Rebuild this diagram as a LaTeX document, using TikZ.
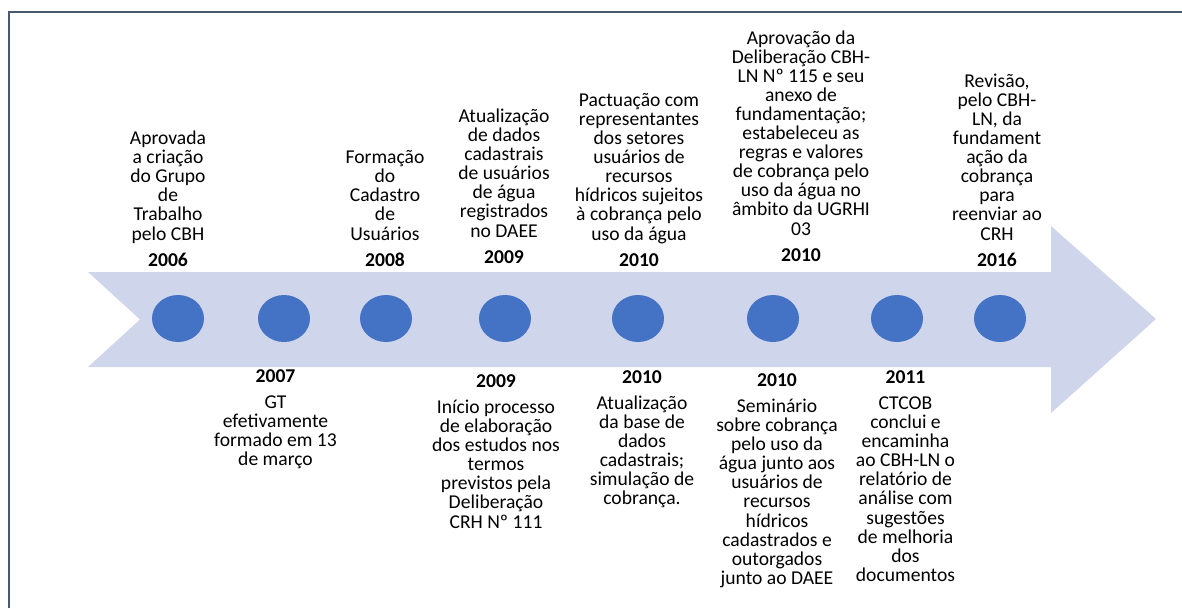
\documentclass[tikz,border=0pt]{standalone}
\usepackage{fontspec}
\setmainfont{Carlito}
\definecolor{bandcol}{HTML}{CFD5EA}
\definecolor{dotcol}{HTML}{4472C4}
\definecolor{framecol}{HTML}{4A5870}
\begin{document}
\begin{tikzpicture}[x=1pt,y=-1pt,
  evt/.style={align=center, inner sep=0pt, text=black,
    font=\fontsize{19.6}{19.1}\selectfont},
  topevt/.style={evt, anchor=south},
  botevt/.style={evt, anchor=north},
  dotnode/.style={circle, fill=dotcol, inner sep=0pt, minimum size=47pt, xscale=1.106}]
\useasboundingbox (0,0) rectangle (1182,608);
\draw[framecol, line width=2pt] (9,608) -- (9,12) -- (1182,12);
\fill[bandcol] (88,272) -- (1051,272) -- (1051,226) -- (1156,319) -- (1051,413)
  -- (1051,367) -- (88,367) -- (140,319.5) -- cycle;
\foreach \x/\n in {178/c1,284/c2,386/c3,505/c4,638/c5,773/c6,897/c7,1000/c8}
  \node[dotnode] (\n) at (\x,318.5) {};
% top events
\node[topevt] (t1) at (168,267) {Aprovada\\a criação\\do Grupo\\de\\Trabalho\\pelo CBH\\[7.5pt]\textbf{2006}};
\node[topevt] (t3) at (385,267) {Formação\\do\\Cadastro\\de\\Usuários\\[7.5pt]\textbf{2008}};
\node[topevt] (t4) at (504,264) {Atualização\\de dados\\cadastrais\\de usuários\\de água\\registrados\\no DAEE\\[7.5pt]\textbf{2009}};
\node[topevt] (t5) at (639,267) {Pactuação com\\representantes\\dos setores\\usuários de\\recursos\\hídricos sujeitos\\à cobrança pelo\\uso da água\\[7.5pt]\textbf{2010}};
\node[topevt] (t6) at (801,262) {Aprovação da\\Deliberação CBH-\\LN Nº 115 e seu\\anexo de\\fundamentação;\\estabeleceu as\\regras e valores\\de cobrança pelo\\uso da água no\\âmbito da UGRHI\\03\\[7.5pt]\textbf{2010}};
\node[topevt] (t8) at (997,267) {Revisão,\\pelo CBH-\\LN, da\\fundament\\ação da\\cobrança\\para\\reenviar ao\\CRH\\[7.5pt]\textbf{2016}};
% bottom events
\node[botevt] (b2) at (275.5,369.3) {\textbf{2007}\\[7pt]GT\\efetivamente\\formado em 13\\de março};
\node[botevt] (b4) at (496,374.3) {\textbf{2009}\\[7pt]Início processo\\de elaboração\\dos estudos nos\\termos\\previstos pela\\Deliberação\\CRH Nº 111};
\node[botevt] (b5) at (642,370.3) {\textbf{2010}\\[7pt]Atualização\\da base de\\dados\\cadastrais;\\simulação de\\cobrança.};
\node[botevt] (b6) at (777,373.3) {\textbf{2010}\\[7pt]Seminário\\sobre cobrança\\pelo uso da\\água junto aos\\usuários de\\recursos\\hídricos\\cadastrados e\\outorgados\\junto ao DAEE};
\node[botevt] (b7) at (905.5,370.3) {\textbf{2011}\\[7pt]CTCOB\\conclui e\\encaminha\\ao CBH-LN o\\relatório de\\análise com\\sugestões\\de melhoria\\dos\\documentos};
\end{tikzpicture}
\end{document}
